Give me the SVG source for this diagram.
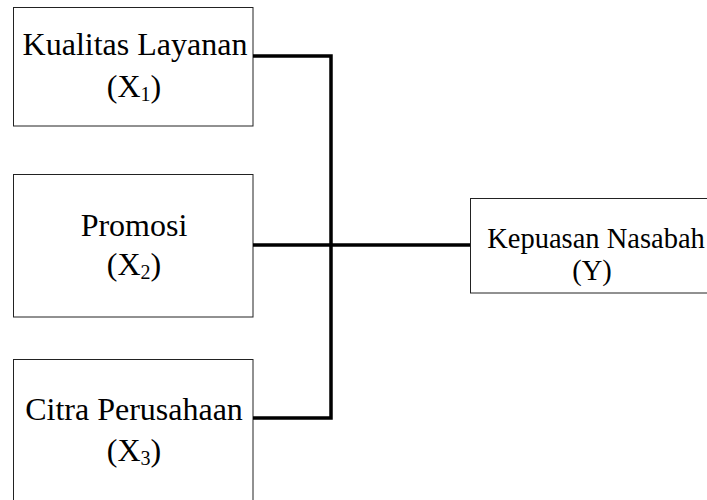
<svg xmlns="http://www.w3.org/2000/svg" width="707" height="500" viewBox="0 0 707 500">
<style>
.box{fill:#fff;stroke:#222;stroke-width:1}
.t{font-family:"Liberation Serif","Times New Roman",serif;font-size:32px;fill:#000;text-anchor:middle}
.ty{font-family:"Liberation Serif","Times New Roman",serif;font-size:28.5px;fill:#000;text-anchor:middle}
.sub{font-size:20px}
.c{fill:none;stroke:#000;stroke-width:3.5;stroke-linecap:butt;stroke-linejoin:miter}
</style>
<rect width="707" height="500" fill="#fff"/>
<g id="x1">
<rect class="box" x="13.5" y="7.5" width="239.5" height="118.5"/>
<text class="t" x="135" y="55">Kualitas Layanan</text>
<text class="t" x="134" y="97">(X<tspan class="sub" dy="4">1</tspan><tspan dy="-4">)</tspan></text>
</g>
<g id="x2">
<rect class="box" x="13.5" y="174.5" width="239.5" height="142.5"/>
<text class="t" x="134" y="236">Promosi</text>
<text class="t" x="134" y="275">(X<tspan class="sub" dy="4">2</tspan><tspan dy="-4">)</tspan></text>
</g>
<g id="x3">
<rect class="box" x="13.5" y="359.5" width="239.5" height="160"/>
<text class="t" x="134" y="420">Citra Perusahaan</text>
<text class="t" x="134" y="461">(X<tspan class="sub" dy="4">3</tspan><tspan dy="-4">)</tspan></text>
</g>
<g id="y">
<rect class="box" x="470.5" y="198.5" width="252" height="94.5"/>
<text class="ty" x="596" y="248">Kepuasan Nasabah</text>
<text class="ty" x="592" y="280">(Y)</text>
</g>
<g id="connectors">
<polyline class="c" points="253,56 331,56 331,418 253,418"/>
<line class="c" x1="253" y1="245" x2="470" y2="245"/>
</g>
</svg>
